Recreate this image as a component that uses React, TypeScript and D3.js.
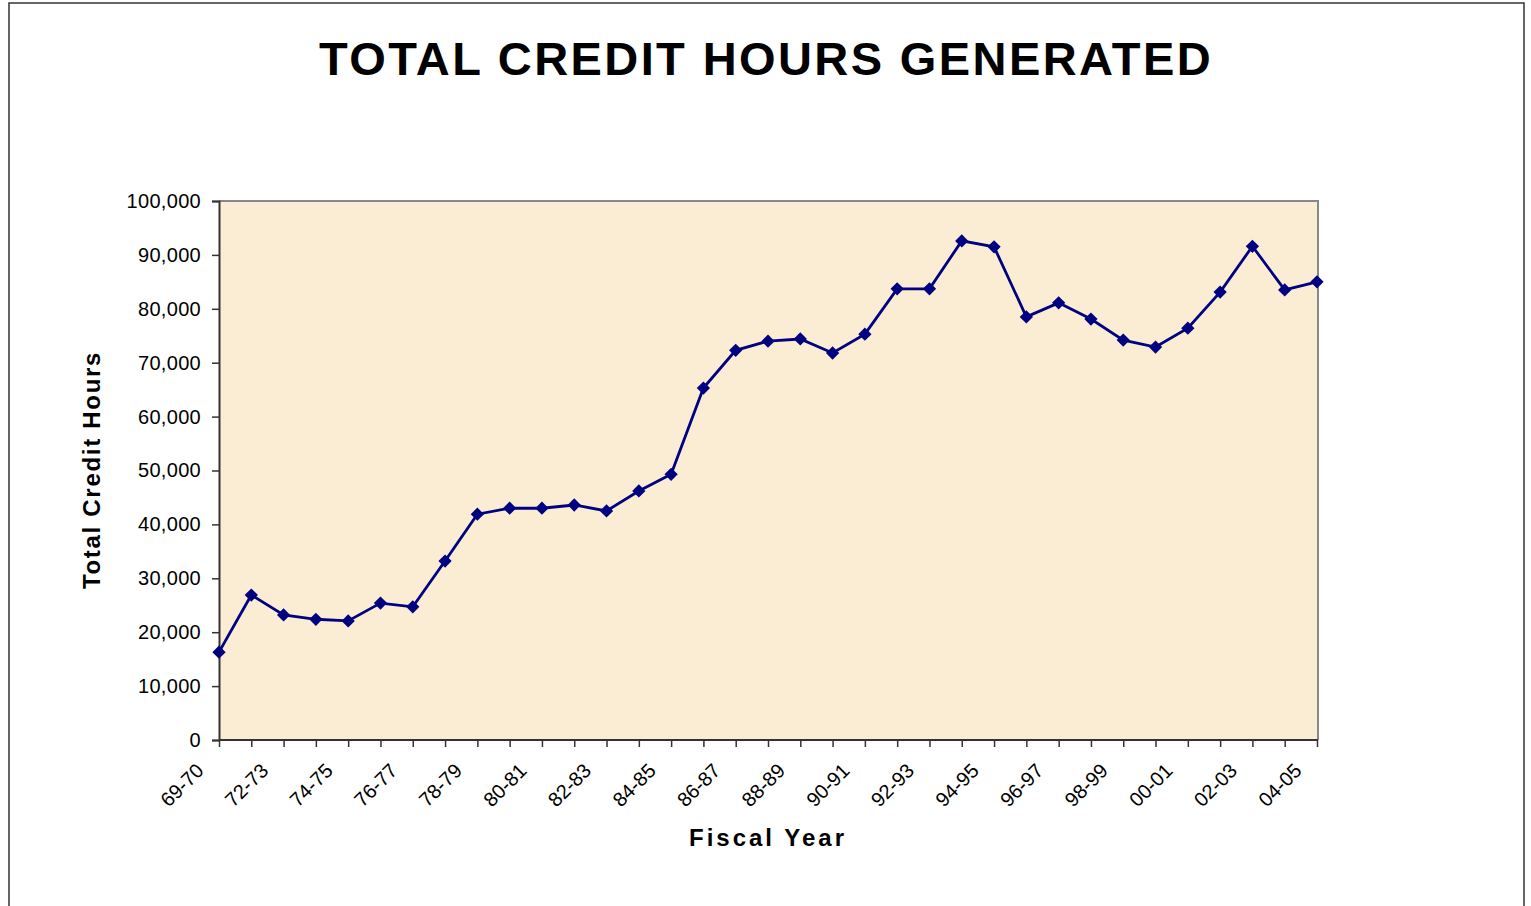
import { useEffect, useRef } from "react"
import * as d3 from "d3"

// fiscal years on the category axis (only every other one is labelled)
const YEARS = [
  "69-70", "70-71", "72-73", "73-74", "74-75", "75-76", "76-77", "77-78",
  "78-79", "79-80", "80-81", "81-82", "82-83", "83-84", "84-85", "85-86",
  "86-87", "87-88", "88-89", "89-90", "90-91", "91-92", "92-93", "93-94",
  "94-95", "95-96", "96-97", "97-98", "98-99", "99-00", "00-01", "01-02",
  "02-03", "03-04", "04-05",
]

const CREDIT_HOURS = [
  16300, 26900, 23200, 22400, 22100, 25400, 24700, 33200,
  41900, 43000, 43000, 43600, 42500, 46200, 49300, 65300,
  72300, 74000, 74400, 71800, 75300, 83700, 83700, 92600,
  91500, 78500, 81100, 78100, 74200, 72900, 76400, 83100,
  91600, 83500, 85000,
]

const Y_TICKS = [0, 10000, 20000, 30000, 40000, 50000, 60000, 70000, 80000, 90000, 100000]

const W = 1531
const H = 906
const PLOT_L = 219
const PLOT_R = 1318
const PLOT_T = 201
const PLOT_B = 740
const FONT = "'Liberation Sans', Arial, sans-serif"
const NAVY = "#000080"

export default function App() {
  const svgRef = useRef<SVGSVGElement>(null)

  useEffect(() => {
    if (!svgRef.current) return
    const svg = d3.select(svgRef.current)
    svg.selectAll("*").remove()

    // outer chart frame
    svg
      .append("rect")
      .attr("x", 9)
      .attr("y", 3)
      .attr("width", 1515)
      .attr("height", 940)
      .attr("fill", "#fff")
      .attr("stroke", "#333")
      .attr("stroke-width", 1.5)

    svg
      .append("text")
      .attr("x", 766)
      .attr("y", 75)
      .attr("text-anchor", "middle")
      .attr("font-family", FONT)
      .attr("font-weight", 700)
      .attr("font-size", 47)
      .attr("letter-spacing", 2.4)
      .attr("fill", "#000")
      .text("TOTAL CREDIT HOURS GENERATED")

    const x = d3
      .scalePoint<string>()
      .domain(YEARS)
      .range([PLOT_L, PLOT_R - 1])

    const y = d3.scaleLinear().domain([0, 100000]).range([PLOT_B, PLOT_T])

    // plot background
    svg
      .append("rect")
      .attr("x", PLOT_L)
      .attr("y", PLOT_T)
      .attr("width", PLOT_R - PLOT_L)
      .attr("height", PLOT_B - PLOT_T)
      .attr("fill", "#faedd3")

    // top and right border, grey
    svg
      .append("path")
      .attr("d", `M${PLOT_L},${PLOT_T}H${PLOT_R}V${PLOT_B}`)
      .attr("fill", "none")
      .attr("stroke", "#888")
      .attr("stroke-width", 2)

    // y axis
    const yAxis = svg
      .append("g")
      .attr("transform", `translate(${PLOT_L},0)`)
      .call(
        d3.axisLeft(y)
          .tickValues(Y_TICKS)
          .tickSize(7)
          .tickPadding(11)
          .tickFormat((d) => d3.format(",")(d as number))
      )
    yAxis.select(".domain").attr("stroke", "#333").attr("stroke-width", 2)
    yAxis.selectAll(".tick line").attr("stroke", "#333").attr("stroke-width", 1.5)
    yAxis
      .selectAll(".tick text")
      .attr("fill", "#000")
      .attr("font-family", FONT)
      .attr("font-size", 20)
      .attr("letter-spacing", 0.3)

    // x axis
    const xAxis = svg
      .append("g")
      .attr("transform", `translate(0,${PLOT_B})`)
      .call(d3.axisBottom(x).tickSize(7).tickSizeOuter(0).tickFormat(() => ""))
    xAxis.select(".domain").attr("stroke", "#333").attr("stroke-width", 2)
      .attr("d", `M${PLOT_L},0H${PLOT_R}`)
    xAxis.selectAll(".tick line").attr("stroke", "#333").attr("stroke-width", 1.5)

    const labels = svg.append("g")
    YEARS.forEach((yr, i) => {
      if (i % 2 !== 0) return
      const tx = x(yr)!
      labels
        .append("text")
        .attr("transform", `translate(${tx - 19},${PLOT_B + 27}) rotate(-45)`)
        .attr("text-anchor", "end")
        .attr("dy", "0.35em")
        .attr("font-family", FONT)
        .attr("font-size", 20)
        .attr("fill", "#000")
        .text(yr)
    })

    // axis titles
    svg
      .append("text")
      .attr("transform", `translate(100,470) rotate(-90)`)
      .attr("text-anchor", "middle")
      .attr("font-family", FONT)
      .attr("font-weight", 700)
      .attr("font-size", 24)
      .attr("letter-spacing", 1.7)
      .text("Total Credit Hours")

    svg
      .append("text")
      .attr("x", 768)
      .attr("y", 846)
      .attr("text-anchor", "middle")
      .attr("font-family", FONT)
      .attr("font-weight", 700)
      .attr("font-size", 24)
      .attr("letter-spacing", 3)
      .text("Fiscal Year")

    // series
    const line = d3
      .line<number>()
      .x((_, i) => x(YEARS[i])!)
      .y((d) => y(d))

    svg
      .append("path")
      .datum(CREDIT_HOURS)
      .attr("d", line)
      .attr("fill", "none")
      .attr("stroke", NAVY)
      .attr("stroke-width", 2.8)

    const diamond = d3.symbol().type(d3.symbolSquare).size(88)
    svg
      .append("g")
      .selectAll("path")
      .data(CREDIT_HOURS)
      .join("path")
      .attr("d", diamond)
      .attr("transform", (d, i) => `translate(${x(YEARS[i])},${y(d)}) rotate(45)`)
      .attr("fill", NAVY)
  }, [])

  return (
    <svg
      ref={svgRef}
      width={W}
      height={H}
      style={{ position: "absolute", left: 0, top: 0, display: "block" }}
    />
  )
}
